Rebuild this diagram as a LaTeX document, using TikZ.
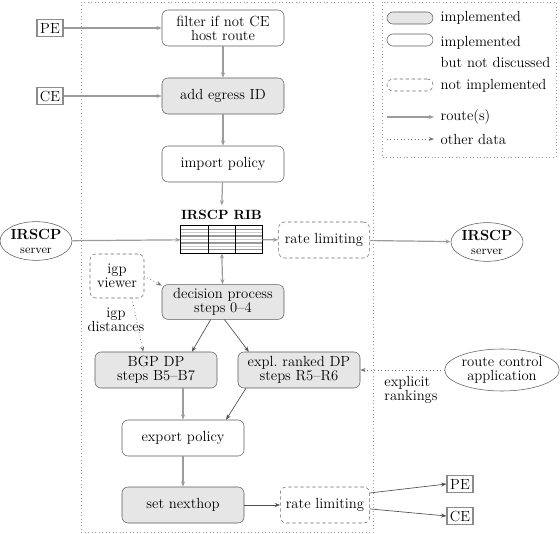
\documentclass[tikz,border=0pt]{standalone}
\usetikzlibrary{arrows.meta,positioning,calc,shapes.geometric}
\definecolor{BoxFill}{HTML}{E6E6E6}
\definecolor{BoxEdge}{HTML}{5A5A5A}
\definecolor{RouteGray}{HTML}{9C9C9C}
\definecolor{LinkGray}{HTML}{505050}
\definecolor{FrameGray}{HTML}{A0A0A0}

\begin{document}
\begin{tikzpicture}[x=0.75pt, y=-0.75pt, >={Stealth[length=4pt,width=3pt]},
    every node/.style={font=\fontsize{11}{10.5}\selectfont},
    plainbox/.style={draw=BoxEdge, rounded corners=4.5pt, minimum width=91.5pt, minimum height=27pt, align=center, inner sep=1pt},
    implbox/.style={plainbox, fill=BoxFill},
    todobox/.style={plainbox, draw=black!60, dashed, dash pattern=on 2.5pt off 2pt, minimum width=68pt},
    endbox/.style={draw=black!45, line width=0.8pt, minimum width=19.5pt, minimum height=13pt, inner sep=1pt},
    server/.style={ellipse, draw=BoxEdge, minimum width=54pt, minimum height=29pt, inner sep=0pt, align=center},
    legpill/.style={minimum width=34.5pt, minimum height=9pt, rounded corners=4.5pt},
    route/.style={->, draw=RouteGray, line width=0.9pt},
    link/.style={->, draw=LinkGray, line width=0.5pt},
    data/.style={->, draw=black!55, dotted, line width=0.6pt}]
  \useasboundingbox (0,0) rectangle (560,534);

  % frames
  \draw[FrameGray, dotted, line width=0.6pt] (81,2) rectangle (373,532);
  \draw[FrameGray, dotted, line width=0.6pt] (382,2) rectangle (556,157);

  % route processing chain
  \node[plainbox] (filter) at (223,28) {filter if not CE\\host route};
  \node[implbox] (egress) at (223,96) {add egress ID};
  \node[plainbox] (import) at (223,164) {import policy};
  \node[minimum width=60.75pt, minimum height=20.25pt, inner sep=0pt] (rib) at (221.5,239.5) {};
  \foreach \r in {1,3,5,7} {
    \draw[black!40, line width=1pt] ($(rib.north west)!\r/8!(rib.south west)$) -- ($(rib.north east)!\r/8!(rib.south east)$);
  }
  \foreach \r in {2,4,6} {
    \draw[black!20, line width=0.6pt] ($(rib.north west)!\r/8!(rib.south west)$) -- ($(rib.north east)!\r/8!(rib.south east)$);
  }
  \foreach \c in {1,2} {
    \draw[line width=0.5pt] ($(rib.north west)!\c/3!(rib.north east)$) -- ($(rib.south west)!\c/3!(rib.south east)$);
  }
  \draw[line width=0.5pt] (rib.north west) rectangle (rib.south east);
  \node[font=\fontsize{10}{11}\selectfont\bfseries, above=1pt of rib] (ribname) {IRSCP RIB};
  \node[todobox] (ratein) at (324,240) {rate limiting};
  \node[server] (srvin) at (36,241) {\textbf{IRSCP}\\{\small server}};
  \node[server] (srvout) at (487,242) {\textbf{IRSCP}\\{\small server}};
  \node[todobox, minimum width=40.5pt, minimum height=33pt] (igp) at (117,276) {igp\\viewer};
  \node[implbox, minimum height=26pt] (decide) at (223,302) {decision process\\steps 0--4};
  \node[align=center] (igpdist) at (116,320) {igp\\distances};
  \node[implbox] (bgpdp) at (156,370) {BGP DP\\steps B5--B7};
  \node[implbox] (rankdp) at (299,370) {expl.\ ranked DP\\steps R5--R6};
  \node[server, minimum width=83pt, minimum height=31.5pt] (rcapp) at (502,370) {route control\\application};
  \node[align=left] (rankslbl) at (411,390) {explicit\\rankings};
  \node[plainbox] (export) at (183,438) {export policy};
  \node[implbox] (nexthop) at (183,505) {set nexthop};
  \node[todobox, minimum width=67pt] (rateout) at (325,505) {rate limiting};

  % peers
  \node[endbox] (pein) at (50,28) {PE};
  \node[endbox] (cein) at (50,96) {CE};
  \node[endbox] (peout) at (460,484) {PE};
  \node[endbox] (ceout) at (460,516) {CE};

  % connectors
  \draw[route] (pein) -- (filter);
  \draw[route] (cein) -- (egress);
  \draw[route] (filter) -- (egress);
  \draw[route] (egress) -- (import);
  \draw[route] (import) -- (ribname);
  \draw[route] (srvin) -- (rib);
  \draw[route] (rib) -- (ratein);
  \draw[route] (ratein) -- (srvout);
  \draw[route, <->] (rib) -- (decide);
  \draw[link] (decide.235) -- (bgpdp.27);
  \draw[link] (decide.-85) -- (rankdp.160);
  \draw[data] (igp.east) -- (decide.165);
  \draw[data] (igp.-56) -- (bgpdp.125);
  \draw[data] (rcapp) -- (rankdp);
  \draw[route] (bgpdp.south -| export) -- (export);
  \draw[link] (rankdp.199) -- (export.23);
  \draw[route] (export) -- (nexthop);
  \draw[link] (nexthop) -- (rateout);
  \draw[link] (rateout.15) -- (peout.west);
  \draw[link] (rateout.-5) -- (ceout.west);

  % legend
  \node[implbox, legpill] (lgimpl) at (410,18) {};
  \node[plainbox, legpill] (lgplain) at (410,40) {};
  \node[todobox, legpill] (lgtodo) at (410,85) {};
  \node[anchor=west] (lgimpltxt) at (436,18) {implemented};
  \node[anchor=north west, align=left] (lgplaintxt) at (436,32) {implemented\\[5pt]but not discussed};
  \node[anchor=west] (lgtodotxt) at (436,86) {not implemented};
  \coordinate (lgr0) at (387,117);
  \coordinate (lgr1) at (434,117);
  \coordinate (lgd0) at (387,139);
  \coordinate (lgd1) at (434,139);
  \draw[route] (lgr0) -- (lgr1);
  \draw[data] (lgd0) -- (lgd1);
  \node[anchor=west] (lgroutetxt) at (436,117) {route(s)};
  \node[anchor=west] (lgdatatxt) at (436,139) {other data};
\end{tikzpicture}
\end{document}
